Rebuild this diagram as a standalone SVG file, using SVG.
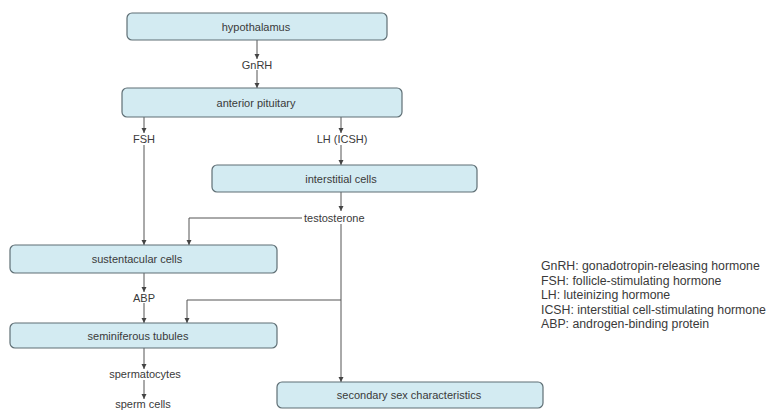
<svg xmlns="http://www.w3.org/2000/svg" width="778" height="410" viewBox="0 0 778 410">
<defs>
<style>
.box{fill:#d3ebf2;stroke:#5f6f75;stroke-width:1.2}
.t{font-family:"Liberation Sans",Arial,sans-serif;font-size:11px;fill:#3a3a3a}
.lg{font-family:"Liberation Sans",Arial,sans-serif;font-size:12.3px;fill:#3a3a3a}
.c{text-anchor:middle}
.ln{fill:none;stroke:#555;stroke-width:1}
</style>
<marker id="ah" markerWidth="6" markerHeight="6" refX="5" refY="3" orient="auto" markerUnits="userSpaceOnUse">
<path d="M0,0.5 L5,3 L0,5.5 Z" fill="#444"/>
</marker>
</defs>
<rect width="778" height="410" fill="#fff"/>
<g id="connectors">
<line class="ln" x1="257" y1="40" x2="257" y2="59" marker-end="url(#ah)"/>
<line class="ln" x1="257" y1="70" x2="257" y2="88" marker-end="url(#ah)"/>
<line class="ln" x1="144" y1="117" x2="144" y2="133" marker-end="url(#ah)"/>
<line class="ln" x1="144" y1="145" x2="144" y2="245" marker-end="url(#ah)"/>
<line class="ln" x1="341" y1="117" x2="341" y2="133" marker-end="url(#ah)"/>
<line class="ln" x1="341" y1="145" x2="341" y2="165" marker-end="url(#ah)"/>
<line class="ln" x1="341" y1="192" x2="341" y2="211" marker-end="url(#ah)"/>
<polyline class="ln" points="302,218 189,218 189,245" marker-end="url(#ah)"/>
<line class="ln" x1="341" y1="224" x2="341" y2="382" marker-end="url(#ah)"/>
<polyline class="ln" points="341,300 187,300 187,323" marker-end="url(#ah)"/>
<line class="ln" x1="144" y1="273" x2="144" y2="292" marker-end="url(#ah)"/>
<line class="ln" x1="144" y1="303" x2="144" y2="323" marker-end="url(#ah)"/>
<line class="ln" x1="144" y1="348" x2="144" y2="369" marker-end="url(#ah)"/>
<line class="ln" x1="144" y1="380" x2="144" y2="399" marker-end="url(#ah)"/>
</g>
<g id="hypothalamus"><rect class="box" x="127" y="13" width="260" height="27" rx="5"/><text class="t c" x="256" y="30.5">hypothalamus</text></g>
<g id="gnrh"><text class="t c" x="257" y="68.5">GnRH</text></g>
<g id="anterior-pituitary"><rect class="box" x="122" y="88" width="280" height="29" rx="5"/><text class="t c" x="256" y="106.5">anterior pituitary</text></g>
<g id="fsh"><text class="t c" x="144" y="143">FSH</text></g>
<g id="lh"><text class="t c" x="342" y="143">LH (ICSH)</text></g>
<g id="interstitial-cells"><rect class="box" x="212" y="165" width="265" height="27" rx="5"/><text class="t c" x="341" y="182.5">interstitial cells</text></g>
<g id="testosterone"><text class="t" x="304" y="222">testosterone</text></g>
<g id="sustentacular-cells"><rect class="box" x="10" y="245" width="267" height="28" rx="5"/><text class="t c" x="137" y="263">sustentacular cells</text></g>
<g id="abp"><text class="t c" x="144" y="302">ABP</text></g>
<g id="seminiferous-tubules"><rect class="box" x="10" y="323" width="267" height="25" rx="5"/><text class="t c" x="138" y="339.5">seminiferous tubules</text></g>
<g id="spermatocytes"><text class="t c" x="145" y="378">spermatocytes</text></g>
<g id="sperm-cells"><text class="t c" x="143" y="407.5">sperm cells</text></g>
<g id="secondary-sex"><rect class="box" x="277" y="382" width="266" height="26" rx="5"/><text class="t c" x="409" y="399">secondary sex characteristics</text></g>
<g id="legend">
<text class="lg" x="541" y="270">GnRH: gonadotropin-releasing hormone</text>
<text class="lg" x="541" y="284.5">FSH: follicle-stimulating hormone</text>
<text class="lg" x="541" y="299">LH: luteinizing hormone</text>
<text class="lg" x="541" y="313.5">ICSH: interstitial cell-stimulating hormone</text>
<text class="lg" x="541" y="328">ABP: androgen-binding protein</text>
</g>
</svg>
